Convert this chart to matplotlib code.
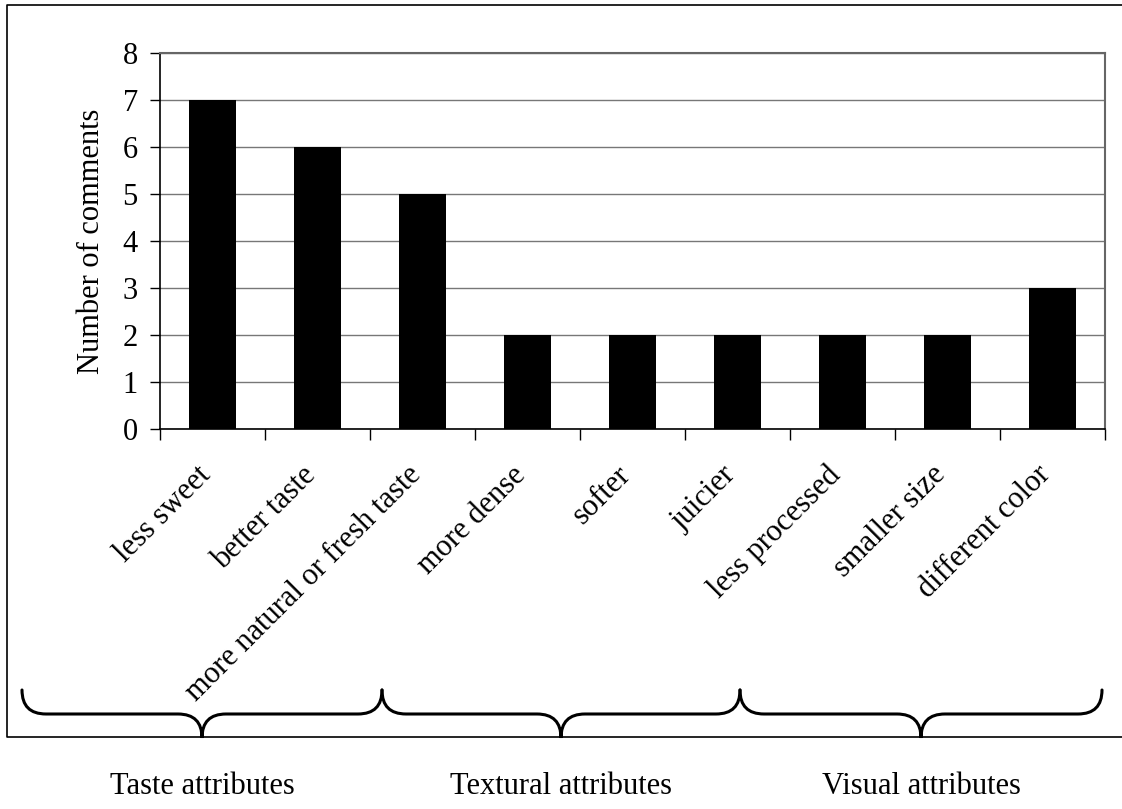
import matplotlib
matplotlib.use("Agg")
import matplotlib.pyplot as plt
from matplotlib.path import Path
from matplotlib.patches import PathPatch
from matplotlib.transforms import ScaledTranslation
import numpy as np

categories = ["less sweet", "better taste", "more natural or fresh taste",
              "more dense", "softer", "juicier",
              "less processed", "smaller size", "different color"]
counts = [7, 6, 5, 2, 2, 2, 2, 2, 3]
groups = ["Taste attributes", "Textural attributes", "Visual attributes"]
group_sizes = [3, 3, 3]
y_ticks = [0, 1, 2, 3, 4, 5, 6, 7, 8]

plt.rcParams["font.family"] = ["Liberation Serif", "DejaVu Serif"]

W, H = 1122, 809
fig = plt.figure(figsize=(W / 100, H / 100), dpi=100)
fig.patch.set_facecolor("white")

# main plot area (pixel extents converted to figure fractions)
left, right, top, bottom = 160, 1105, 53, 429
ax = fig.add_axes([left / W, 1 - bottom / H, (right - left) / W, (bottom - top) / H])

x = np.arange(len(categories))
ax.bar(x, counts, width=0.45, color="black", zorder=3)
ax.set_xlim(-0.5, len(categories) - 0.5)
ax.set_ylim(0, 8)
ax.set_yticks(y_ticks)
ax.set_yticklabels([str(t) for t in y_ticks], fontsize=22)
ax.yaxis.grid(True, color="#777777", linewidth=1.0, zorder=0)
ax.set_axisbelow(True)
ax.tick_params(axis="y", direction="out", length=7, width=1, pad=9)

# category ticks on group boundaries, labels centred under bars
ax.set_xticks(np.arange(len(categories) + 1) - 0.5)
ax.set_xticklabels([])
ax.tick_params(axis="x", direction="out", length=8, width=1)
ax.set_xticks(x, minor=True)
ax.set_xticklabels(categories, minor=True, rotation=45, ha="right",
                   va="center", rotation_mode="anchor", fontsize=22)
ax.tick_params(axis="x", which="minor", length=0, pad=30)
shift = ScaledTranslation(-6 / 100, 0, fig.dpi_scale_trans)
for lbl in ax.get_xticklabels(minor=True):
    lbl.set_transform(lbl.get_transform() + shift)

ax.set_ylabel("Number of comments", fontsize=22, labelpad=12)

for side in ("left", "bottom"):
    ax.spines[side].set_color("black")
    ax.spines[side].set_linewidth(1.2)
for side in ("top", "right"):
    ax.spines[side].set_color("#666666")
    ax.spines[side].set_linewidth(1.5)

# overlay in pixel coordinates for the frame, braces and group captions
ov = fig.add_axes([0, 0, 1, 1], zorder=5)
ov.set_xlim(0, W)
ov.set_ylim(H, 0)
ov.axis("off")
ov.patch.set_alpha(0)

# outer frame (open on the right)
ov.plot([W, 7, 7, W], [5, 5, 737, 737], color="black", linewidth=1.2)


def brace(x0, x1, ytop, ymid, ytip, r):
    xc = (x0 + x1) / 2
    verts = [(x0, ytop), (x0, ymid), (x0 + r, ymid),
             (xc - r, ymid), (xc, ymid), (xc, ytip),
             (xc, ymid), (xc + r, ymid),
             (x1 - r, ymid), (x1, ymid), (x1, ytop)]
    codes = [Path.MOVETO, Path.CURVE3, Path.CURVE3,
             Path.LINETO, Path.CURVE3, Path.CURVE3,
             Path.CURVE3, Path.CURVE3,
             Path.LINETO, Path.CURVE3, Path.CURVE3]
    return PathPatch(Path(verts, codes), facecolor="none",
                     edgecolor="black", linewidth=2.2, capstyle="round")


edges = [22, 382, 740, 1102]
for i, name in enumerate(groups):
    x0, x1 = edges[i], edges[i + 1]
    ov.add_patch(brace(x0, x1, 690, 714, 738, 24))
    ov.text((x0 + x1) / 2, 787, name, ha="center", va="center", fontsize=22)

fig.savefig("out.png", dpi=100)
